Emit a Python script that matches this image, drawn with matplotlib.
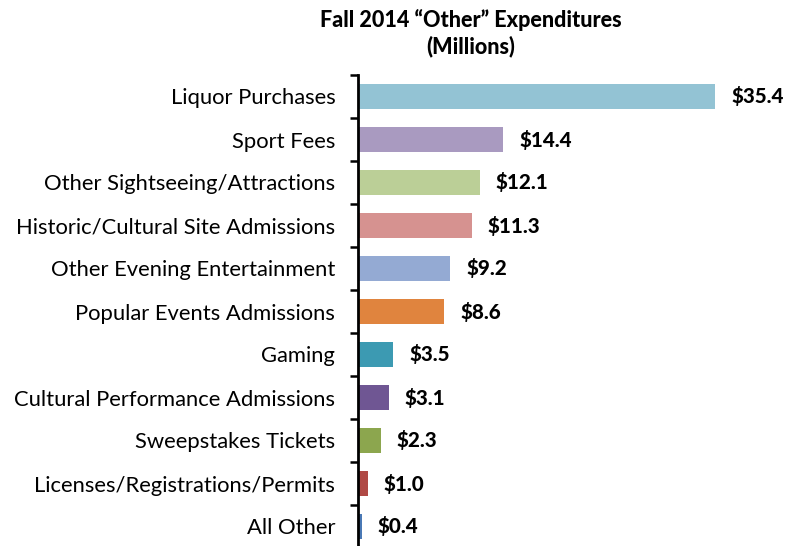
import numpy as np
import matplotlib.pyplot as plt

categories = ['Liquor Purchases', 'Sport Fees', 'Other Sightseeing/Attractions',
              'Historic/Cultural Site Admissions', 'Other Evening Entertainment',
              'Popular Events Admissions', 'Gaming', 'Cultural Performance Admissions',
              'Sweepstakes Tickets', 'Licenses/Registrations/Permits', 'All Other']
values = [35.4, 14.4, 12.1, 11.3, 9.2, 8.6, 3.5, 3.1, 2.3, 1.0, 0.4]
colors = ['#93C3D4', '#A99AC0', '#BBCF97', '#D69290', '#94AAD3', '#E0843E',
          '#3C9AB2', '#6F5693', '#8CA64E', '#B04945', '#4A79B5']

plt.rcParams['font.family'] = ['Lato', 'DejaVu Sans']

W, H = 787, 546
fig = plt.figure(figsize=(W / 100, H / 100), dpi=100)

# axes in pixel terms: x=0 at 357.5, rows from y=75 to y=548
x0, ytop, ybot, xr = 357.5, 75, 548, 760
ax = fig.add_axes([x0 / W, 1 - ybot / H, (xr - x0) / W, (ybot - ytop) / H])
scale = (715 - x0) / 35.4
ax.set_xlim(0, (xr - x0) / scale)

y = np.arange(len(categories))
ax.barh(y, values, height=0.56, color=colors)
ax.set_ylim(len(categories) - 0.5, -0.5)

for yi, v in zip(y, values):
    ax.text(v + 1.6, yi, f'${v:.1f}', va='center', ha='left',
            fontsize=14.8, fontweight='black')

ax.set_yticks(y)
ax.set_yticklabels(categories, fontsize=15.8)
ax.tick_params(axis='y', which='major', length=0, pad=16)
ax.set_yticks(np.arange(-0.5, len(categories) - 0.5, 1), minor=True)
ax.tick_params(axis='y', which='minor', length=6, width=1.8, direction='out')
ax.set_xticks([])
for s in ['top', 'right', 'bottom']:
    ax.spines[s].set_visible(False)
ax.spines['left'].set_linewidth(2)

fig.text(471 / W, 1 - 20 / H, 'Fall 2014 \u201cOther\u201d Expenditures',
         ha='center', va='center', fontsize=15.5, fontweight='black')
fig.text(471 / W, 1 - 46 / H, '(Millions)',
         ha='center', va='center', fontsize=15.5, fontweight='black')

fig.savefig('out.png', dpi=100)
